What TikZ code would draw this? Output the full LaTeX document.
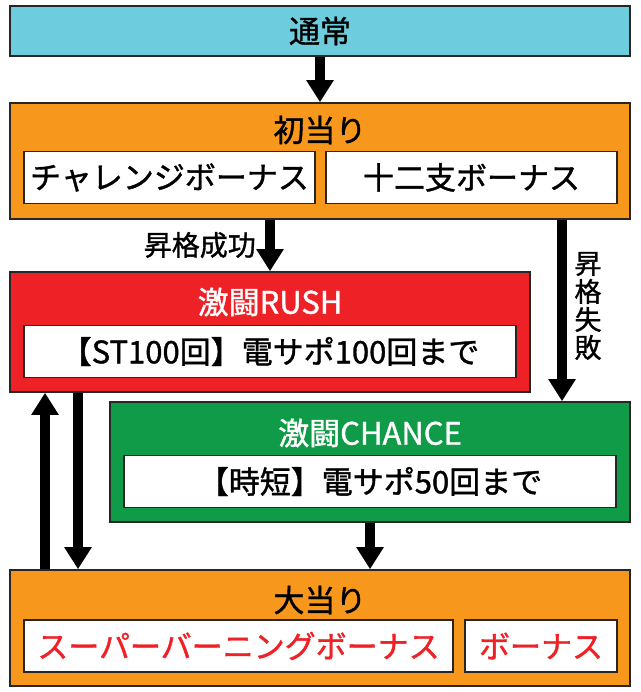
\documentclass[tikz,border=0pt]{standalone}
\usepackage{fontspec}
\setmainfont{Noto Sans CJK JP}[AutoFakeBold=1.2]
\usetikzlibrary{arrows.meta}
\definecolor{tsujocol}{HTML}{6DCCDD}
\definecolor{atarcol}{HTML}{F7981D}
\definecolor{rushcol}{HTML}{EE2127}
\definecolor{chancecol}{HTML}{0F9B48}
\begin{document}
\begin{tikzpicture}[x=1pt,y=-1pt,
    frame/.style={draw=black!85, line width=1.6pt, inner sep=0pt},
    inbox/.style={frame, fill=white, minimum height=52pt, font=\fontsize{31}{31}\selectfont\bfseries},
    title/.style={font=\fontsize{31}{31}\selectfont\bfseries, inner sep=0pt},
    bigarrow/.style={line width=10pt, -{Triangle[length=22pt,width=26pt]}}]
    \useasboundingbox (0,0) rectangle (640,692);
    % boxes
    \node[frame, fill=tsujocol, minimum width=620pt, minimum height=50pt] (tsujo) at (320,31) {};
    \node[title] (tsujot) at (320,31) {通常};
    \node[frame, fill=atarcol, minimum width=620pt, minimum height=116pt] (hatsu) at (320,161) {};
    \node[title] (hatsut) at (320,130) {初当り};
    \node[inbox, minimum width=291pt] (challenge) at (169.5,177.5) {チャレンジボーナス};
    \node[inbox, minimum width=291pt] (juni) at (471.5,177.5) {十二支ボーナス};
    \node[frame, fill=rushcol, minimum width=520pt, minimum height=120pt] (rush) at (270,332) {};
    \node[title, white] (rusht) at (270,302) {激闘RUSH};
    \node[inbox, minimum width=492pt] (rushin) at (270,351.5) {【ST100回】電サポ100回まで};
    \node[frame, fill=chancecol, minimum width=520pt, minimum height=120pt] (chance) at (370,462) {};
    \node[title, white] (chancet) at (370,433) {激闘CHANCE};
    \node[inbox, minimum width=492pt] (chancein) at (370,481.5) {【時短】電サポ50回まで};
    \node[frame, fill=atarcol, minimum width=620pt, minimum height=116pt] (oo) at (320,628) {};
    \node[title] (oot) at (320,600) {大当り};
    \node[inbox, minimum width=429pt, text=rushcol] (super) at (238.5,646) {スーパーバーニングボーナス};
    \node[inbox, minimum width=152pt, text=rushcol] (bonus) at (541,646) {ボーナス};
    % arrows
    \coordinate (failx) at (562,0);
    \coordinate (upx) at (45,0);
    \coordinate (downx) at (78,0);
    \draw[bigarrow] (tsujo.south) -- (hatsu.north);
    \draw[bigarrow] (hatsu.south -| rush.north) -- (rush.north);
    \draw[bigarrow] (hatsu.south -| failx) -- (chance.north -| failx);
    \draw[bigarrow] (oo.north -| upx) -- (rush.south -| upx);
    \draw[bigarrow] (rush.south -| downx) -- (oo.north -| downx);
    \draw[bigarrow] (chance.south) -- (oo.north -| chance.south);
    % labels
    \node[title, font=\fontsize{28}{28}\selectfont\bfseries, anchor=east] (succ) at (256,245) {昇格成功};
    \node[title, font=\fontsize{27}{28}\selectfont\bfseries, align=center] (fail) at (588,306) {昇\\格\\失\\敗};
\end{tikzpicture}
\end{document}
